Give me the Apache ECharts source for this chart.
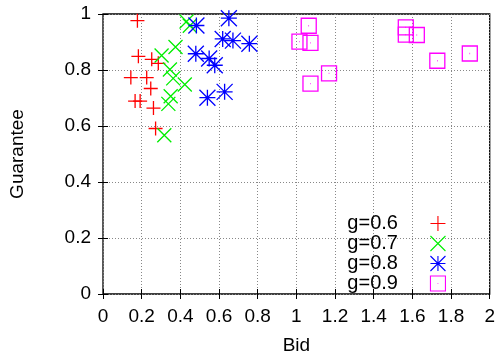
<!DOCTYPE html>
<html>
<head>
<meta charset="utf-8">
<script src="https://cdn.jsdelivr.net/npm/echarts@6/dist/echarts.min.js"></script>
<style>
    html, body { margin: 0; padding: 0; background: #fff; }
    #chart { width: 498px; height: 360px; }
</style>
</head>
<body>
<div id="chart"></div>
<script>
    // data
    let seriesNames = ['g=0.6', 'g=0.7', 'g=0.8', 'g=0.9'];
    let bidG6 = [0.178, 0.183, 0.252, 0.286, 0.144, 0.226, 0.247, 0.166, 0.192, 0.261, 0.272];
    let guarG6 = [0.976, 0.849, 0.838, 0.824, 0.773, 0.773, 0.734, 0.689, 0.689, 0.664, 0.591];
    let bidG7 = [0.432, 0.449, 0.375, 0.303, 0.346, 0.363, 0.423, 0.350, 0.338, 0.317];
    let guarG7 = [0.973, 0.958, 0.882, 0.852, 0.802, 0.770, 0.748, 0.706, 0.679, 0.567];
    let bidG8 = [0.483, 0.651, 0.619, 0.672, 0.757, 0.480, 0.549, 0.578, 0.540, 0.629];
    let guarG8 = [0.959, 0.985, 0.911, 0.905, 0.894, 0.858, 0.841, 0.817, 0.701, 0.722];
    let bidG9 = [1.064, 1.016, 1.073, 1.169, 1.073, 1.566, 1.566, 1.623, 1.729, 1.897];
    let guarG9 = [0.958, 0.901, 0.897, 0.788, 0.751, 0.952, 0.926, 0.925, 0.833, 0.859];
    let xTicks = [0, 0.2, 0.4, 0.6, 0.8, 1, 1.2, 1.4, 1.6, 1.8, 2];
    let yTicks = [0, 0.2, 0.4, 0.6, 0.8, 1];

    let colors = ['#ff0000', '#00ee00', '#0000ff', '#ff00ff'];
    let symbols = [
        'path://M0,5L10,5M5,0L5,10',
        'path://M0,0L10,10M10,0L0,10',
        'path://M0,5L10,5M5,0L5,10M0,0L10,10M10,0L0,10M4.6,5L5.4,5M5,4.6L5,5.4',
        'path://M0,0L10,0L10,10L0,10Z M4.8,5L5.2,5'
    ];
    let sizes = [14, 14, 16, 15];

    function pairs(xs, ys) {
        return xs.map(function (x, i) { return [x, ys[i]]; });
    }
    let allData = [pairs(bidG6, guarG6), pairs(bidG7, guarG7), pairs(bidG8, guarG8), pairs(bidG9, guarG9)];

    let font = 'Liberation Sans, Arial, Helvetica, sans-serif';
    let fontSize = 19;

    let series = seriesNames.map(function (name, i) {
        return {
            name: name,
            type: 'scatter',
            data: allData[i],
            symbol: symbols[i],
            symbolSize: sizes[i],
            symbolKeepAspect: true,
            itemStyle: {
                color: 'transparent',
                borderColor: colors[i],
                borderWidth: 1.3,
                opacity: 1
            },
            emphasis: { disabled: true }
        };
    });

    function tickText(list) {
        return function (v) {
            let r = Math.round(v * 10) / 10;
            return list.indexOf(r) >= 0 ? String(r) : '';
        };
    }

    let dom = document.getElementById('chart');
    let myChart = echarts.init(dom, null, { renderer: 'canvas' });
    myChart.setOption({
        animation: false,
        textStyle: { fontFamily: font },
        grid: {
            left: 101, right: 8, top: 14, bottom: 62.5,
            show: true,
            borderColor: '#000',
            borderWidth: 1.3,
            backgroundColor: 'transparent'
        },
        legend: {
            orient: 'vertical',
            align: 'right',
            right: 52,
            top: 213.5,
            padding: 0,
            itemWidth: 70,
            itemHeight: 15,
            itemGap: 0,
            itemStyle: { borderWidth: 1.1 },
            textStyle: { fontSize: 20, color: '#000', fontFamily: font, lineHeight: 20 },
            data: seriesNames
        },
        xAxis: [{
            type: 'value',
            min: 0, max: 2, interval: 0.2,
            name: 'Bid',
            nameLocation: 'middle',
            nameGap: 42,
            nameTextStyle: { fontSize: fontSize, color: '#000' },
            axisLine: { show: false },
            axisTick: { inside: true, length: 5, lineStyle: { color: '#000' } },
            axisLabel: { margin: 13, fontSize: fontSize, color: '#000', formatter: tickText(xTicks) },
            splitLine: { show: true, lineStyle: { color: '#888', type: [1, 2], width: 1 } }
        }, {
            type: 'value', position: 'top',
            min: 0, max: 2, interval: 0.2,
            axisLine: { show: false },
            axisTick: { inside: true, length: 5, lineStyle: { color: '#000' } },
            axisLabel: { show: false },
            splitLine: { show: false }
        }],
        yAxis: [{
            type: 'value',
            min: 0, max: 1, interval: 0.2,
            name: 'Guarantee',
            nameLocation: 'middle',
            nameGap: 76,
            nameTextStyle: { fontSize: fontSize, color: '#000' },
            axisLine: { show: false },
            axisTick: { inside: true, length: 5, lineStyle: { color: '#000' } },
            axisLabel: { margin: 12, fontSize: fontSize, color: '#000', formatter: tickText(yTicks) },
            splitLine: { show: true, lineStyle: { color: '#888', type: [1, 2], width: 1 } }
        }, {
            type: 'value', position: 'right',
            min: 0, max: 1, interval: 0.2,
            axisLine: { show: false },
            axisTick: { inside: true, length: 5, lineStyle: { color: '#000' } },
            axisLabel: { show: false },
            splitLine: { show: false }
        }],
        series: series
    });
</script>
</body>
</html>
